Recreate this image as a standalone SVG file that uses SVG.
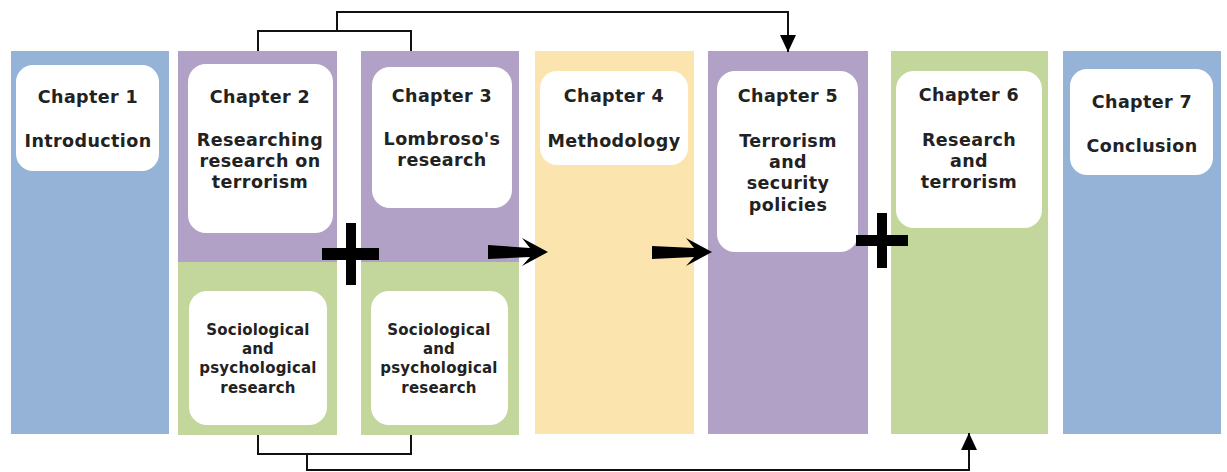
<svg xmlns="http://www.w3.org/2000/svg" width="1227" height="472" viewBox="0 0 1227 472">
<style>
.blue{fill:#95b3d7}.purple{fill:#b2a1c7}.green{fill:#c3d69b}.yellow{fill:#fbe4ae}
.box{fill:#ffffff}
.t{font-family:"DejaVu Sans",Verdana,sans-serif;font-weight:bold;font-size:17.5px;letter-spacing:0.4px;fill:#222;text-anchor:middle}
.s{font-family:"DejaVu Sans",Verdana,sans-serif;font-weight:bold;font-size:15px;letter-spacing:0.2px;fill:#222;text-anchor:middle}
.line{fill:none;stroke:#111;stroke-width:2}
.blk{fill:#000}
</style>
<defs>
<marker id="ah" markerWidth="17" markerHeight="20" refX="17" refY="10" orient="auto" markerUnits="userSpaceOnUse">
<path d="M0,2 L17,10 L0,18 Z" fill="#000"/>
</marker>
</defs>
<rect width="1227" height="472" fill="#ffffff"/>

<g id="chapter1">
<rect class="blue" x="11" y="51" width="158" height="383"/>
<rect class="box" x="16" y="65" width="143" height="106" rx="17"/>
<text class="t" x="88" y="103">Chapter 1</text>
<text class="t" x="88" y="147">Introduction</text>
</g>

<g id="chapter2">
<rect class="purple" x="178" y="51" width="159" height="211"/>
<rect class="green" x="178" y="262" width="159" height="173"/>
<rect class="box" x="188" y="64" width="145" height="169" rx="18"/>
<text class="t" x="260" y="103">Chapter 2</text>
<text class="t" x="260" y="146">Researching</text>
<text class="t" x="260" y="167">research on</text>
<text class="t" x="260" y="188">terrorism</text>
<rect class="box" x="189" y="291" width="138" height="134" rx="18"/>
<text class="s" x="258" y="335">Sociological</text>
<text class="s" x="258" y="354">and</text>
<text class="s" x="258" y="373">psychological</text>
<text class="s" x="258" y="393">research</text>
</g>

<g id="chapter3">
<rect class="purple" x="361" y="51" width="158" height="211"/>
<rect class="green" x="361" y="262" width="158" height="173"/>
<rect class="box" x="372" y="67" width="140" height="141" rx="18"/>
<text class="t" x="442" y="102">Chapter 3</text>
<text class="t" x="442" y="145">Lombroso's</text>
<text class="t" x="442" y="166">research</text>
<rect class="box" x="371" y="291" width="137" height="134" rx="18"/>
<text class="s" x="439" y="335">Sociological</text>
<text class="s" x="439" y="354">and</text>
<text class="s" x="439" y="373">psychological</text>
<text class="s" x="439" y="393">research</text>
</g>

<g id="chapter4">
<rect class="yellow" x="535" y="51" width="159" height="383"/>
<rect class="box" x="540" y="71" width="148" height="94" rx="17"/>
<text class="t" x="614" y="102">Chapter 4</text>
<text class="t" x="614" y="147">Methodology</text>
</g>

<g id="chapter5">
<rect class="purple" x="708" y="51" width="160" height="383"/>
<rect class="box" x="717" y="71" width="141" height="181" rx="18"/>
<text class="t" x="788" y="102">Chapter 5</text>
<text class="t" x="788" y="147">Terrorism</text>
<text class="t" x="788" y="168">and</text>
<text class="t" x="788" y="189">security</text>
<text class="t" x="788" y="211">policies</text>
</g>

<g id="chapter6">
<rect class="green" x="891" y="51" width="157" height="383"/>
<rect class="box" x="896" y="71" width="146" height="157" rx="18"/>
<text class="t" x="969" y="101">Chapter 6</text>
<text class="t" x="969" y="146">Research</text>
<text class="t" x="969" y="167">and</text>
<text class="t" x="969" y="188">terrorism</text>
</g>

<g id="chapter7">
<rect class="blue" x="1063" y="51" width="158" height="383"/>
<rect class="box" x="1070" y="69" width="143" height="106" rx="17"/>
<text class="t" x="1142" y="108">Chapter 7</text>
<text class="t" x="1142" y="152">Conclusion</text>
</g>

<g id="connectors">
<path class="line" d="M258,51 V31 H411 V51"/>
<path class="line" d="M337,31 V12 H788 V52" marker-end="url(#ah)"/>
<path class="line" d="M258,435 V454 H411 V435"/>
<path class="line" d="M307,454 V470 H969 V433" marker-end="url(#ah)"/>
<path class="blk" d="M488,245 L530,248 L522,238 L548,252 L522,266 L530,257 L488,259 Z"/>
<path class="blk" d="M652,246 L694,248 L686,238 L712,252 L686,266 L694,257 L652,259 Z"/>
<rect class="blk" x="322" y="248" width="57" height="12"/>
<rect class="blk" x="346" y="223" width="10" height="62"/>
<rect class="blk" x="856" y="235" width="52" height="11"/>
<rect class="blk" x="877" y="213" width="10" height="55"/>
</g>
</svg>
